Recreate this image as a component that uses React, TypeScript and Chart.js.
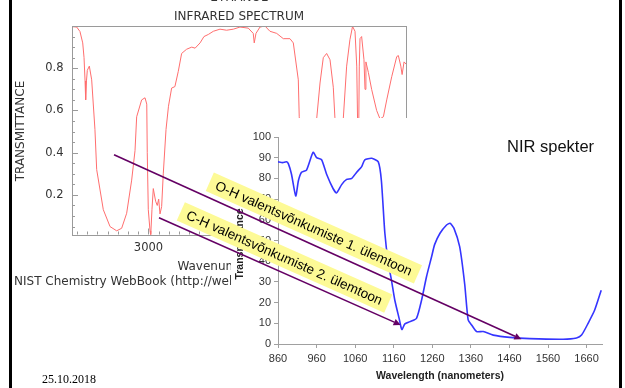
import React, { useEffect, useRef } from 'react';
import { Chart, registerables } from 'chart.js';

Chart.register(...registerables);

// ---------- IR spectrum (NIST, ethanol) ----------
const irWavenumber = [
  3750, 3704, 3672, 3645, 3632, 3622, 3616, 3608, 3600, 3580, 3557, 3525, 3508, 3443, 3377, 3312,
  3263, 3214, 3165, 3132, 3116, 3067, 3034, 3017, 3012, 3002, 2985, 2978, 2966, 2953, 2930, 2914,
  2900, 2887, 2871, 2855, 2828, 2804, 2773, 2741, 2708, 2675, 2626, 2576, 2543, 2494, 2456, 2413,
  2364, 2299, 2234, 2168, 2103, 2022, 1973, 1963, 1946, 1907, 1858, 1809, 1743, 1678, 1613, 1580,
  1531, 1522, 1500, 1455, 1420, 1385, 1351, 1318, 1286, 1253, 1220, 1188, 1172, 1140, 1115, 1090,
  1057, 1025, 999, 975, 958, 950, 942, 933, 926, 910, 887, 877, 868, 844, 812, 763,
  730, 697, 664, 615, 566, 550, 526, 513, 494, 475,
];
const irTransmittance = [
  0.997, 0.995, 0.974, 0.92, 0.85, 0.74, 0.65, 0.74, 0.79, 0.81, 0.745, 0.51, 0.32, 0.13, 0.05, 0.03,
  0.042, 0.113, 0.27, 0.41, 0.57, 0.65, 0.66, 0.63, 0.4, 0.13, 0.03, 0.01, 0.13, 0.23, 0.17, 0.15,
  0.18, 0.11, 0.145, 0.3, 0.51, 0.62, 0.706, 0.713, 0.785, 0.87, 0.89, 0.9, 0.895, 0.92, 0.95, 0.96,
  0.975, 0.985, 0.98, 0.985, 0.995, 0.99, 0.965, 0.92, 0.965, 0.995, 1.0, 0.975, 0.965, 0.94, 0.94, 0.92,
  0.745, 0.57, 0.38, 0.3, 0.42, 0.33, 0.56, 0.73, 0.85, 0.87, 0.84, 0.71, 0.565, 0.3, 0.38, 0.56,
  0.81, 0.935, 0.998, 0.975, 0.81, 0.56, 0.32, 0.81, 0.94, 0.95, 0.84, 0.7, 0.83, 0.78, 0.7, 0.6,
  0.56, 0.57, 0.65, 0.76, 0.855, 0.86, 0.81, 0.77, 0.83, 0.82,
];
const irXTicks = [1000, 2000, 3000];
const irYTicks = [0.2, 0.4, 0.6, 0.8];

// ---------- NIR spectrum ----------
const nirWavelength = [
  860, 872, 882, 887, 895, 906, 913, 921, 934, 951, 960, 973, 986, 1003, 1012, 1025,
  1038, 1051, 1064, 1077, 1085, 1103, 1120, 1128, 1137, 1146, 1154, 1163, 1174, 1181, 1189, 1202,
  1219, 1232, 1245, 1258, 1266, 1280, 1297, 1306, 1316, 1331, 1344, 1353, 1362, 1375, 1392, 1418,
  1461, 1513, 1599, 1634, 1647, 1664, 1681, 1698,
];
const nirTransmittance = [
  88, 87.6, 88, 87, 82, 71.5, 79, 83, 84, 92.6, 90, 89, 82, 75, 73, 77,
  79.5, 80, 83, 85.7, 89, 89.7, 88, 79, 53.6, 39, 31, 21, 12.4, 7, 9.7, 10.8,
  12.4, 21, 32.5, 42, 48, 53.5, 57.5, 58.3, 56, 47, 29, 11.6, 9.2, 6, 6, 4.3,
  3.2, 2.6, 2.3, 2.9, 4.3, 10, 16.4, 26,
];
const nirXTicks = [860, 960, 1060, 1160, 1260, 1360, 1460, 1560, 1660];
const nirYTicks = [0, 10, 20, 30, 40, 50, 60, 70, 80, 90, 100];

// ---------- annotations ----------
const labelOH = 'O-H valentsvõnkumiste 1. ülemtoon';
const labelCH = 'C-H valentsvõnkumiste 2. ülemtoon';
const labelOHAnchor = [953, 56]; // NIR data coords (center of box)
const labelCHAnchor = [877, 41.8];
const arrowOHFrom = [3338, 0.39]; // IR data coords
const arrowOHTo = [1491, 2.3]; // NIR data coords
const arrowCHFrom = [2897, 0.092];
const arrowCHTo = [1178, 9.2];

const SANS = 'Arial, "Liberation Sans", sans-serif';
const DEJAVU = '"DejaVu Sans", sans-serif';

function zeroPad(s: any) {
  s.paddingLeft = 0;
  s.paddingRight = 0;
  s.paddingTop = 0;
  s.paddingBottom = 0;
}

const irFramePlugin = {
  id: 'irFrame',
  afterDraw(chart: any) {
    const { ctx, chartArea: a } = chart;
    const x = chart.scales.x;
    const y = chart.scales.y;
    ctx.save();
    ctx.strokeStyle = '#9a9a9a';
    ctx.lineWidth = 1;
    ctx.strokeRect(Math.round(a.left) + 0.5, Math.round(a.top) + 0.5, Math.round(a.right - a.left), Math.round(a.bottom - a.top));
    ctx.beginPath();
    for (let i = 1; i < 20; i++) {
      const v = i * 0.05;
      const py = Math.round(y.getPixelForValue(v)) + 0.5;
      const len = i % 4 === 0 ? 6 : 3;
      ctx.moveTo(a.left, py);
      ctx.lineTo(a.left + len, py);
    }
    for (let w = 500; w <= 3700; w += 100) {
      const px = Math.round(x.getPixelForValue(w)) + 0.5;
      const len = w % 1000 === 0 ? 6 : 3;
      ctx.moveTo(px, a.bottom);
      ctx.lineTo(px, a.bottom - len);
    }
    ctx.stroke();

    const cx = (a.left + a.right) / 2;
    ctx.fillStyle = '#333';
    ctx.font = '12px ' + DEJAVU;
    ctx.textAlign = 'center';
    ctx.textBaseline = 'alphabetic';
    ctx.fillText('ETHANOL', cx, 1);
    ctx.fillText('INFRARED SPECTRUM', cx, 20);
    ctx.textBaseline = 'middle';
    ctx.fillText('Wavenumber (cm-1)', cx, 267);
    ctx.textAlign = 'left';
    ctx.fillText('NIST Chemistry WebBook (http://webbook.nist.gov/chemistry)', 14, 282);
    ctx.save();
    ctx.translate(20.5, 131);
    ctx.rotate(-Math.PI / 2);
    ctx.textAlign = 'center';
    ctx.fillText('TRANSMITTANCE', 0, 0);
    ctx.restore();
    ctx.restore();
  },
};

function makeOverlay(irChart: any) {
  return {
    id: 'nirOverlay',
    beforeDraw(chart: any) {
      const { ctx } = chart;
      ctx.save();
      ctx.fillStyle = '#ffffff';
      ctx.fillRect(231, 118, 387, 270);
      ctx.restore();
    },
    afterDraw(chart: any) {
      const { ctx, chartArea: a } = chart;
      const nx = chart.scales.x;
      const ny = chart.scales.y;
      const ix = irChart.scales.x;
      const iy = irChart.scales.y;
      ctx.save();
      // axis titles
      ctx.fillStyle = '#222';
      ctx.font = 'bold 10.5px ' + SANS;
      ctx.textAlign = 'center';
      ctx.textBaseline = 'middle';
      ctx.fillText('Wavelength (nanometers)', (a.left + a.right) / 2, 376.5);
      ctx.save();
      ctx.translate(240, 244);
      ctx.rotate(-Math.PI / 2);
      ctx.fillText('Transmittance', 0, 0);
      ctx.restore();

      // NIR spekter
      ctx.fillStyle = '#111';
      ctx.font = '16.5px ' + SANS;
      ctx.textAlign = 'left';
      ctx.fillText('NIR spekter', 507, 147);

      // yellow labels
      const drawLabel = (text: string, anchor: number[]) => {
        const cx = nx.getPixelForValue(anchor[0]);
        const cy = ny.getPixelForValue(anchor[1]);
        ctx.save();
        ctx.translate(cx, cy);
        ctx.rotate((24 * Math.PI) / 180);
        ctx.font = '13.5px ' + SANS;
        const w = ctx.measureText(text).width + 14;
        const h = 20;
        ctx.fillStyle = '#fdfa96';
        ctx.fillRect(-w / 2, -h / 2, w, h);
        ctx.fillStyle = '#000';
        ctx.textAlign = 'center';
        ctx.textBaseline = 'middle';
        ctx.fillText(text, 0, 1);
        ctx.restore();
      };
      drawLabel(labelOH, labelOHAnchor);
      drawLabel(labelCH, labelCHAnchor);

      // arrows
      const drawArrow = (from: number[], to: number[]) => {
        const x1 = ix.getPixelForValue(from[0]);
        const y1 = iy.getPixelForValue(from[1]);
        const x2 = nx.getPixelForValue(to[0]);
        const y2 = ny.getPixelForValue(to[1]);
        const ang = Math.atan2(y2 - y1, x2 - x1);
        const hl = 7;
        const hw = 3.5;
        ctx.strokeStyle = '#640064';
        ctx.fillStyle = '#640064';
        ctx.lineWidth = 1.6;
        ctx.beginPath();
        ctx.moveTo(x1, y1);
        ctx.lineTo(x2 - hl * Math.cos(ang), y2 - hl * Math.sin(ang));
        ctx.stroke();
        ctx.beginPath();
        ctx.moveTo(x2, y2);
        ctx.lineTo(x2 - hl * Math.cos(ang) + hw * Math.sin(ang), y2 - hl * Math.sin(ang) - hw * Math.cos(ang));
        ctx.lineTo(x2 - hl * Math.cos(ang) - hw * Math.sin(ang), y2 - hl * Math.sin(ang) + hw * Math.cos(ang));
        ctx.closePath();
        ctx.fill();
      };
      drawArrow(arrowOHFrom, arrowOHTo);
      drawArrow(arrowCHFrom, arrowCHTo);

      // date
      ctx.fillStyle = '#000';
      ctx.font = '12px "Liberation Serif", "Times New Roman", serif';
      ctx.textAlign = 'left';
      ctx.textBaseline = 'middle';
      ctx.fillText('25.10.2018', 42, 380);

      // slide frame
      ctx.fillStyle = '#000';
      ctx.fillRect(9, 0, 3, 388);
      ctx.fillRect(619, 0, 3, 388);
      ctx.restore();
    },
  };
}

export default function App() {
  const irRef = useRef<HTMLCanvasElement>(null);
  const nirRef = useRef<HTMLCanvasElement>(null);

  useEffect(() => {
    const irChart = new Chart(irRef.current as HTMLCanvasElement, {
      type: 'line',
      data: {
        datasets: [
          {
            data: irWavenumber.map((w, i) => ({ x: w, y: irTransmittance[i] })),
            borderColor: '#ff6e6e',
            borderWidth: 1,
            pointRadius: 0,
            tension: 0,
            fill: false,
          },
        ],
      },
      options: {
        animation: false,
        responsive: false,
        events: [],
        layout: { padding: { left: 0, right: 219, top: 26, bottom: 123.5 } },
        plugins: { legend: { display: false }, tooltip: { enabled: false } },
        scales: {
          x: {
            type: 'linear',
            reverse: true,
            min: 475,
            max: 3750,
            afterBuildTicks: (s: any) => {
              s.ticks = irXTicks.map((v) => ({ value: v }));
            },
            afterFit: (s: any) => {
              s.height = 30;
              zeroPad(s);
            },
            grid: { display: false, drawTicks: false },
            border: { display: false },
            ticks: {
              padding: 7,
              color: '#333',
              font: { family: DEJAVU, size: 11.5 },
              maxRotation: 0,
              autoSkip: false,
              callback: (v: any) => String(v),
            },
          },
          y: {
            type: 'linear',
            min: 0.0125,
            max: 1.0,
            afterBuildTicks: (s: any) => {
              s.ticks = irYTicks.map((v) => ({ value: v }));
            },
            afterFit: (s: any) => {
              s.width = 72;
              zeroPad(s);
            },
            grid: { display: false, drawTicks: false },
            border: { display: false },
            ticks: {
              padding: 8.5,
              color: '#333',
              font: { family: DEJAVU, size: 11.5 },
              callback: (v: any) => Number(v).toFixed(1),
            },
          },
        },
      },
      plugins: [irFramePlugin],
    } as any);

    const nirChart = new Chart(nirRef.current as HTMLCanvasElement, {
      type: 'line',
      data: {
        datasets: [
          {
            data: nirWavelength.map((w, i) => ({ x: w, y: nirTransmittance[i] })),
            borderColor: '#3535ff',
            borderWidth: 1.6,
            pointRadius: 0,
            tension: 0.2,
            fill: false,
          },
        ],
      },
      options: {
        animation: false,
        responsive: false,
        events: [],
        layout: { padding: { left: 228, right: 23, top: 137, bottom: 4 } },
        plugins: { legend: { display: false }, tooltip: { enabled: false } },
        scales: {
          x: {
            type: 'linear',
            min: 860,
            max: 1700,
            afterBuildTicks: (s: any) => {
              s.ticks = nirXTicks.map((v) => ({ value: v }));
            },
            afterFit: (s: any) => {
              s.height = 40;
              zeroPad(s);
            },
            grid: { display: true, drawOnChartArea: false, drawTicks: true, tickLength: 4, color: '#a0a0a0' },
            border: { display: true, color: '#a0a0a0', width: 1 },
            ticks: {
              padding: 4.5,
              color: '#333',
              font: { family: SANS, size: 11 },
              maxRotation: 0,
              autoSkip: false,
              callback: (v: any) => String(v),
            },
          },
          y: {
            type: 'linear',
            min: 0,
            max: 100,
            afterBuildTicks: (s: any) => {
              s.ticks = nirYTicks.map((v) => ({ value: v }));
            },
            afterFit: (s: any) => {
              s.width = 50;
              zeroPad(s);
            },
            grid: { display: true, drawOnChartArea: false, drawTicks: true, tickLength: 4, color: '#a0a0a0' },
            border: { display: true, color: '#a0a0a0', width: 1 },
            ticks: {
              padding: 3,
              color: '#333',
              font: { family: SANS, size: 11 },
              callback: (v: any) => String(v),
            },
          },
        },
      },
      plugins: [makeOverlay(irChart)],
    } as any);

    return () => {
      nirChart.destroy();
      irChart.destroy();
    };
  }, []);

  return (
    <div
      style={{
        position: 'fixed',
        left: 0,
        top: 0,
        width: 625,
        height: 388,
        background: '#ffffff',
        overflow: 'hidden',
      }}
    >
      <canvas ref={irRef} width={625} height={388} style={{ position: 'absolute', left: 0, top: 0 }} />
      <canvas ref={nirRef} width={625} height={388} style={{ position: 'absolute', left: 0, top: 0 }} />
    </div>
  );
}
